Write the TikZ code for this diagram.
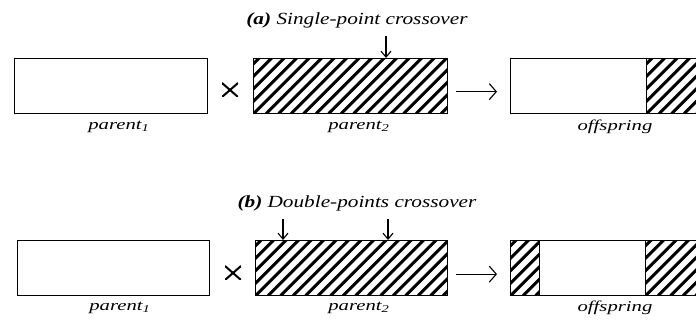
\documentclass[tikz,border=0pt]{standalone}
\usepackage{fontspec}
\setmainfont{Liberation Serif}
\usetikzlibrary{arrows.meta}
\begin{document}
\begin{tikzpicture}[x=1pt,y=-1pt,
  box/.style={draw,line width=1.3pt,minimum height=55pt,inner sep=0pt,anchor=north west},
  hatch/.style={path picture={\foreach \k in {-6,...,17}{\draw[line width=3pt] ([xshift=\k*12.5pt]path picture bounding box.south west) -- ++(62pt,62pt);}}},
  lab/.style={font=\fontsize{15}{15}\selectfont\itshape,inner sep=0pt},
  ttl/.style={font=\fontsize{17}{17}\selectfont,inner sep=0pt},
  cross/.style={minimum width=16pt,minimum height=14pt,inner sep=0pt,
    path picture={\draw[line width=2pt] (path picture bounding box.south west) -- (path picture bounding box.north east) (path picture bounding box.north west) -- (path picture bounding box.south east);}},
  arr/.style={line width=1.2pt,-{Straight Barb[length=7pt,width=16pt,line width=1.1pt]}},
  cut/.style={line width=1.1pt,-{Straight Barb[length=6pt,width=10pt,line width=1.1pt]}}]
\useasboundingbox (0,0) rectangle (696,320);
\clip (0,0) rectangle (696,320);
% ---------- (a) ----------
\node[ttl] (ta) at (357,20) {\scalebox{1.25}[1]{\textbf{\textit{(a)}} \textit{Single-point crossover}}};
\node[box,minimum width=193pt] (p1a) at (14,58) {};
\node[cross] (xa) at (230,90) {};
\node[box,minimum width=194pt,hatch] (p2a) at (253,58) {};
\node[box,minimum width=136pt] (oa1) at (510,58) {};
\node[box,minimum width=58pt,hatch] (oa2) at (646,58) {};
\node[lab] (l1a) at (119,127) {\scalebox{1.38}[1]{parent\textsubscript{1}}};
\node[lab] (l2a) at (359,127) {\scalebox{1.38}[1]{parent\textsubscript{2}}};
\node[lab] (l3a) at (615,127) {\scalebox{1.38}[1]{offspring}};
\coordinate (ca) at (386,36);
\draw[cut] (ca) -- (ca |- p2a.north);
\draw[arr] ([xshift=8pt,yshift=-5.5pt]p2a.east) -- ([xshift=-13pt,yshift=-5.5pt]oa1.west);
% ---------- (b) ----------
\node[ttl] (tb) at (357,203) {\scalebox{1.25}[1]{\textbf{\textit{(b)}} \textit{Double-points crossover}}};
\node[box,minimum width=192pt] (p1b) at (17,240) {};
\node[cross] (xb) at (233,273) {};
\node[box,minimum width=192pt,hatch] (p2b) at (255,240) {};
\node[box,minimum width=29pt,hatch] (ob1) at (510,240) {};
\node[box,minimum width=106pt] (ob2) at (539,240) {};
\node[box,minimum width=59pt,hatch] (ob3) at (645,240) {};
\node[lab] (l1b) at (120,308) {\scalebox{1.38}[1]{parent\textsubscript{1}}};
\node[lab] (l2b) at (359,308) {\scalebox{1.38}[1]{parent\textsubscript{2}}};
\node[lab] (l3b) at (615,308) {\scalebox{1.38}[1]{offspring}};
\coordinate (cb1) at (283,219);
\coordinate (cb2) at (388,219);
\draw[cut] (cb1) -- (cb1 |- p2b.north);
\draw[cut] (cb2) -- (cb2 |- p2b.north);
\draw[arr] ([xshift=8pt,yshift=-6pt]p2b.east) -- ([xshift=-13pt,yshift=-6pt]ob1.west);
\end{tikzpicture}
\end{document}
